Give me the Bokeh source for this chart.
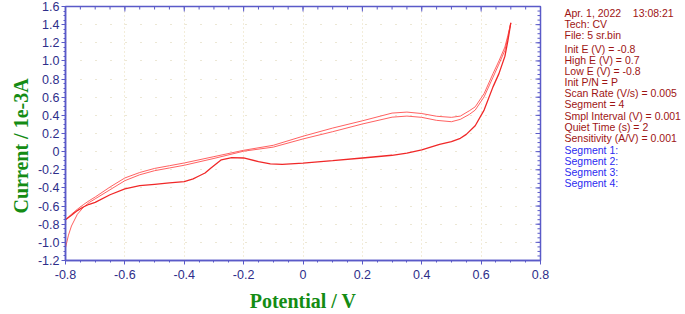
import numpy as np
from bokeh.plotting import figure
from bokeh.layouts import row
from bokeh.models import (Range1d, LinearAxis, FixedTicker, CustomJSTickFormatter)
from bokeh.core.properties import value
from bokeh.embed import file_html
from bokeh.resources import INLINE

# ---------------- data ----------------
x_fwd = [-0.80, -0.79, -0.78, -0.76, -0.74, -0.72, -0.70, -0.65, -0.60, -0.55, -0.50, -0.45,
         -0.40, -0.30, -0.20, -0.10, 0.00, 0.10, 0.20, 0.30, 0.35, 0.40, 0.45, 0.50, 0.53,
         0.56, 0.58, 0.61, 0.64, 0.66, 0.68, 0.69, 0.70]
seg1_i = [-1.06, -0.92, -0.82, -0.69, -0.615, -0.56, -0.52, -0.42, -0.32, -0.255, -0.21, -0.18,
          -0.15, -0.075, 0.005, 0.05, 0.14, 0.22, 0.305, 0.38, 0.392, 0.378, 0.345, 0.33, 0.356,
          0.41, 0.458, 0.604, 0.82, 0.965, 1.117, 1.26, 1.42]
seg3_i = [-0.75, -0.72, -0.69, -0.635, -0.585, -0.54, -0.50, -0.39, -0.29, -0.23, -0.185, -0.155,
          -0.125, -0.055, 0.015, 0.07, 0.17, 0.26, 0.34, 0.425, 0.436, 0.42, 0.39, 0.378, 0.392,
          0.45, 0.494, 0.64, 0.86, 1.0, 1.153, 1.28, 1.42]

x_rev = [0.70, 0.69, 0.68, 0.66, 0.64, 0.61, 0.58, 0.55, 0.53, 0.50, 0.46, 0.40, 0.35, 0.30,
         0.20, 0.10, 0.00, -0.07, -0.11, -0.15, -0.20, -0.24, -0.275, -0.31, -0.33, -0.354,
         -0.37, -0.40, -0.45, -0.50, -0.55, -0.60, -0.65, -0.70, -0.72, -0.74, -0.76, -0.78, -0.80]
rev_i = [1.42, 1.22, 1.05, 0.86, 0.714, 0.458, 0.285, 0.19, 0.147, 0.11, 0.081, 0.019, -0.017,
         -0.04, -0.07, -0.10, -0.127, -0.14, -0.135, -0.11, -0.07, -0.065, -0.09, -0.18, -0.235,
         -0.274, -0.30, -0.33, -0.345, -0.36, -0.375, -0.41, -0.475, -0.56, -0.58, -0.61, -0.65,
         -0.70, -0.75]

x_ticks = [-0.8, -0.6, -0.4, -0.2, 0.0, 0.2, 0.4, 0.6, 0.8]
y_ticks = [-1.2, -1.0, -0.8, -0.6, -0.4, -0.2, 0.0, 0.2, 0.4, 0.6, 0.8, 1.0, 1.2, 1.4, 1.6]

x_title = "Potential / V"
y_title = "Current / 1e-3A"
info_lines = ["Apr. 1, 2022\u00a0\u00a0\u00a0 13:08:21", "Tech: CV", "File: 5 sr.bin",
              "Init E (V) = -0.8", "High E (V) = 0.7", "Low E (V) = -0.8", "Init P/N = P",
              "Scan Rate (V/s) = 0.005", "Segment = 4", "Smpl Interval (V) = 0.001",
              "Quiet Time (s) = 2", "Sensitivity (A/V) = 0.001"]
segment_lines = ["Segment 1:", "Segment 2:", "Segment 3:", "Segment 4:"]

# ---------------- layout constants ----------------
W0, W1, W2, H = 34, 521, 130, 314          # y-title strip, main plot, info panel
FL, FR, FT, FB = 64 - W0, 540 - W0, 6, 261  # main frame edges (canvas px of main plot)
GREEN = "#148c14"
AX = "#5a5ac8"
LBL = "#2e2e8a"

x_minor = np.round(np.arange(-0.8, 0.8001, 0.05), 4).tolist()
y_minor = np.round(np.arange(-1.2, 1.6001, 0.05), 4).tolist()

# ---------------- y-title strip (data units = canvas px) ----------------
t = figure(width=W0, height=H, output_backend="svg", toolbar_location=None,
           x_range=Range1d(0, W0), y_range=Range1d(FB, FT),
           min_border_left=0, min_border_right=0, min_border_top=FT,
           min_border_bottom=H - FB, x_axis_location=None, y_axis_location=None)
t.outline_line_color = None
t.xgrid.visible = False
t.ygrid.visible = False
t.text([20.5], [146], text=[y_title], angle=np.pi / 2,
       text_font=value("Liberation Serif"), text_font_style="bold", text_font_size="20px",
       text_color=GREEN, text_align="center", text_baseline="alphabetic")

# ---------------- main plot ----------------
p = figure(width=W1, height=H, output_backend="svg", toolbar_location=None,
           x_range=Range1d(-0.8, 0.8), y_range=Range1d(-1.2, 1.6),
           min_border_left=FL, min_border_right=W1 - FR, min_border_top=FT,
           min_border_bottom=H - FB, x_axis_location=None, y_axis_location=None)
p.outline_line_color = AX
p.outline_line_width = 1.5

fmt = CustomJSTickFormatter(code="return Math.abs(tick) < 1e-9 ? '0' : tick.toFixed(1);")

def mk_axis(ticks, minor):
    ax = LinearAxis(ticker=FixedTicker(ticks=ticks, minor_ticks=minor))
    ax.axis_line_color = AX
    ax.axis_line_width = 1.5
    ax.major_tick_line_color = AX
    ax.minor_tick_line_color = AX
    ax.major_tick_in, ax.major_tick_out = 0, 4
    ax.minor_tick_in, ax.minor_tick_out = 0, 2
    ax.formatter = fmt
    ax.major_label_text_font = "Liberation Sans"
    ax.major_label_text_font_size = "12.5px"
    ax.major_label_text_color = LBL
    ax.axis_label_text_font = "Liberation Serif"
    ax.axis_label_text_font_style = "bold"
    ax.axis_label_text_font_size = "20px"
    ax.axis_label_text_color = GREEN
    return ax

xb = mk_axis(x_ticks, x_minor)
xb.major_label_standoff = 5
xb.axis_label = x_title
xb.axis_label_standoff = 8
yl = mk_axis(y_ticks, y_minor)
yl.major_label_standoff = 2
p.add_layout(xb, "below")
p.add_layout(yl, "left")

# top (inward) and right ticks drawn as short dashes on the frame edge
p.scatter(x_ticks, [1.6] * len(x_ticks), marker="dash", size=10, angle=np.pi / 2,
          line_color=AX, line_width=1)
p.scatter(x_minor, [1.6] * len(x_minor), marker="dash", size=6, angle=np.pi / 2,
          line_color=AX, line_width=1)
p.scatter([0.8] * len(y_ticks), y_ticks, marker="dash", size=10, line_color=AX, line_width=1)
p.scatter([0.8] * len(y_minor), y_minor, marker="dash", size=6, line_color=AX, line_width=1)

# grids
p.xgrid.ticker = FixedTicker(ticks=x_ticks)
p.ygrid.ticker = FixedTicker(ticks=y_ticks)
p.xgrid.grid_line_color = "#e6dbb4"
p.xgrid.grid_line_dash = "1 3"
p.ygrid.grid_line_color = "#d8cfa8"
p.ygrid.grid_line_dash = "1 14"

# curves
p.line(x_fwd, seg1_i, line_color="#ff5050", line_width=1, line_alpha=0.9)
p.line(x_fwd, seg3_i, line_color="#ff5050", line_width=1, line_alpha=0.9)
p.line(x_rev, rev_i, line_color="#f02828", line_width=1.3)

# ---------------- info panel (data units = canvas px) ----------------
q = figure(width=W2, height=H, output_backend="svg", toolbar_location=None,
           x_range=Range1d(0, W2), y_range=Range1d(FB, FT),
           min_border_left=0, min_border_right=0, min_border_top=FT,
           min_border_bottom=H - FB, x_axis_location=None, y_axis_location=None)
q.outline_line_color = None
q.xgrid.visible = False
q.ygrid.visible = False

info_y = [12.7, 24, 34.9, 48.3, 59.6, 70.7, 81.8, 93.1, 104.3, 115.6, 126.7, 137.6]
seg_y = [150.5, 161.5, 172.5, 183.5]
TX = 564 - W0 - W1
q.text([TX] * len(info_lines), info_y, text=info_lines,
       text_font=value("Liberation Sans"), text_font_size="10.5px", text_color="#9e1414",
       text_baseline="middle")
q.text([TX] * len(segment_lines), seg_y, text=segment_lines,
       text_font=value("Liberation Sans"), text_font_size="10.5px", text_color="#2b2bf0",
       text_baseline="middle")

layout = row(t, p, q, spacing=0)
open("out.html", "w").write(file_html(layout, INLINE))
